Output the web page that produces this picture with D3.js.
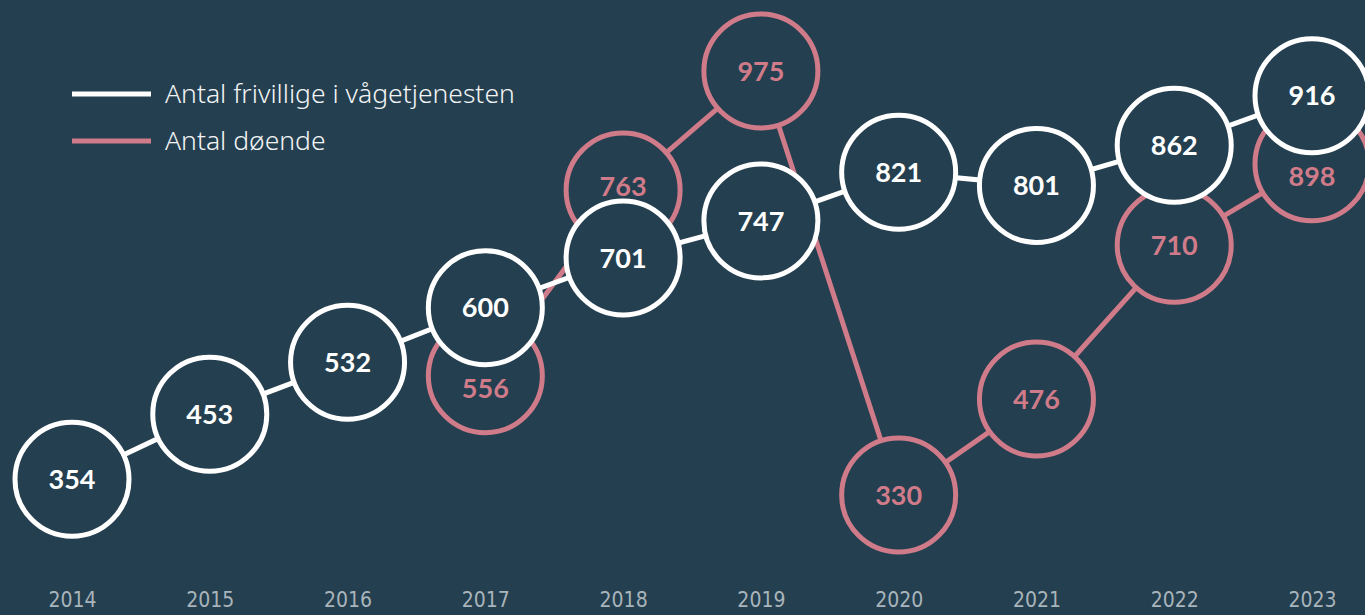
<!DOCTYPE html>
<html>
<head>
<meta charset="utf-8">
<script src="https://cdn.jsdelivr.net/npm/d3@7"></script>
<style>
  html, body { margin: 0; padding: 0; background: #243f4f; }
  svg { display: block; }
</style>
</head>
<body>
<div id="chart"></div>
<script>
// data
let years = [2014, 2015, 2016, 2017, 2018, 2019, 2020, 2021, 2022, 2023];
let frivillige = [354, 453, 532, 600, 701, 747, 821, 801, 862, 916];
let doende = [null, null, null, 556, 763, 975, 330, 476, 710, 898];
let seriesNames = ["Antal frivillige i vågetjenesten", "Antal døende"];

let width = 1365, height = 615;
let bg = "#243f4f";
let white = "#ffffff";
let pink = "#d07b89";
let r = 57;
let minGap = 68; // circles of the same year are pushed apart to this distance

let svg = d3.select("#chart").append("svg")
    .attr("width", width)
    .attr("height", height);

svg.append("rect").attr("width", width).attr("height", height).attr("fill", bg);

let x = d3.scalePoint()
    .domain(years)
    .range([72, 1312]);

let y = d3.scaleLinear()
    .domain([330, 975])
    .range([495, 71]);

let wData = years.map(function(yr, i) {
    return {year: yr, value: frivillige[i], cx: x(yr), cy: y(frivillige[i])};
});

// pink series; when it collides with the white circle of the same year
// both are pushed apart (pink takes most of the move)
let pData = [];
years.forEach(function(yr, i) {
    if (doende[i] == null) return;
    let w = wData[i];
    let cy = y(doende[i]);
    let below = doende[i] < frivillige[i];
    let labelDy = 0;
    let gap = Math.abs(cy - w.cy);
    if (gap < minGap) {
        let need = minGap - gap;
        let dir = below ? 1 : -1;
        cy += dir * need * 0.75;
        w.cy -= dir * need * 0.25;
        labelDy = below ? 13 : -4;
    }
    pData.push({year: yr, value: doende[i], cx: x(yr), cy: cy, labelDy: labelDy});
});

let line = d3.line().x(d => d.cx).y(d => d.cy);

// pink first, white on top
svg.append("path")
    .datum(pData)
    .attr("d", line)
    .attr("fill", "none")
    .attr("stroke", pink)
    .attr("stroke-width", 5);

let pg = svg.selectAll(".pink").data(pData).enter().append("g").attr("class", "pink");
pg.append("circle")
    .attr("cx", d => d.cx).attr("cy", d => d.cy).attr("r", r)
    .attr("fill", bg).attr("stroke", pink).attr("stroke-width", 5);
pg.append("text")
    .attr("x", d => d.cx).attr("y", d => d.cy + d.labelDy)
    .attr("dy", "0.36em")
    .attr("text-anchor", "middle")
    .attr("fill", pink)
    .style("font-family", "Lato, 'Open Sans', sans-serif")
    .style("font-weight", 700)
    .style("font-size", "27px")
    .text(d => d.value);

svg.append("path")
    .datum(wData)
    .attr("d", line)
    .attr("fill", "none")
    .attr("stroke", white)
    .attr("stroke-width", 5);

let wg = svg.selectAll(".white").data(wData).enter().append("g").attr("class", "white");
wg.append("circle")
    .attr("cx", d => d.cx).attr("cy", d => d.cy).attr("r", r)
    .attr("fill", bg).attr("stroke", white).attr("stroke-width", 5);
wg.append("text")
    .attr("x", d => d.cx).attr("y", d => d.cy)
    .attr("dy", "0.36em")
    .attr("text-anchor", "middle")
    .attr("fill", white)
    .style("font-family", "Lato, 'Open Sans', sans-serif")
    .style("font-weight", 700)
    .style("font-size", "27px")
    .text(d => d.value);

// x axis, labels only
let xAxis = d3.axisBottom(x).tickSize(0).tickPadding(0);
let ax = svg.append("g")
    .attr("transform", "translate(0," + 592 + ")")
    .call(xAxis);
ax.select(".domain").remove();
ax.selectAll("text")
    .attr("fill", "#a9b4bb")
    .style("font-family", "'Liberation Sans Narrow', 'DejaVu Sans Condensed', sans-serif")
    .style("font-stretch", "condensed")
    .style("font-size", "21px");

// legend
let legend = svg.selectAll(".legend").data(seriesNames).enter().append("g")
    .attr("class", "legend")
    .attr("transform", (d, i) => "translate(72," + (94 + i * 47) + ")");
legend.append("line")
    .attr("x1", 0).attr("x2", 79)
    .attr("stroke", (d, i) => i == 0 ? white : pink)
    .attr("stroke-width", 5);
legend.append("text")
    .attr("x", 93)
    .attr("dy", "0.34em")
    .attr("fill", "#f2f4f5")
    .style("font-family", "'Noto Sans', sans-serif")
    .style("font-weight", 300)
    .style("font-size", "26.5px")
    .text(d => d);
</script>
</body>
</html>
